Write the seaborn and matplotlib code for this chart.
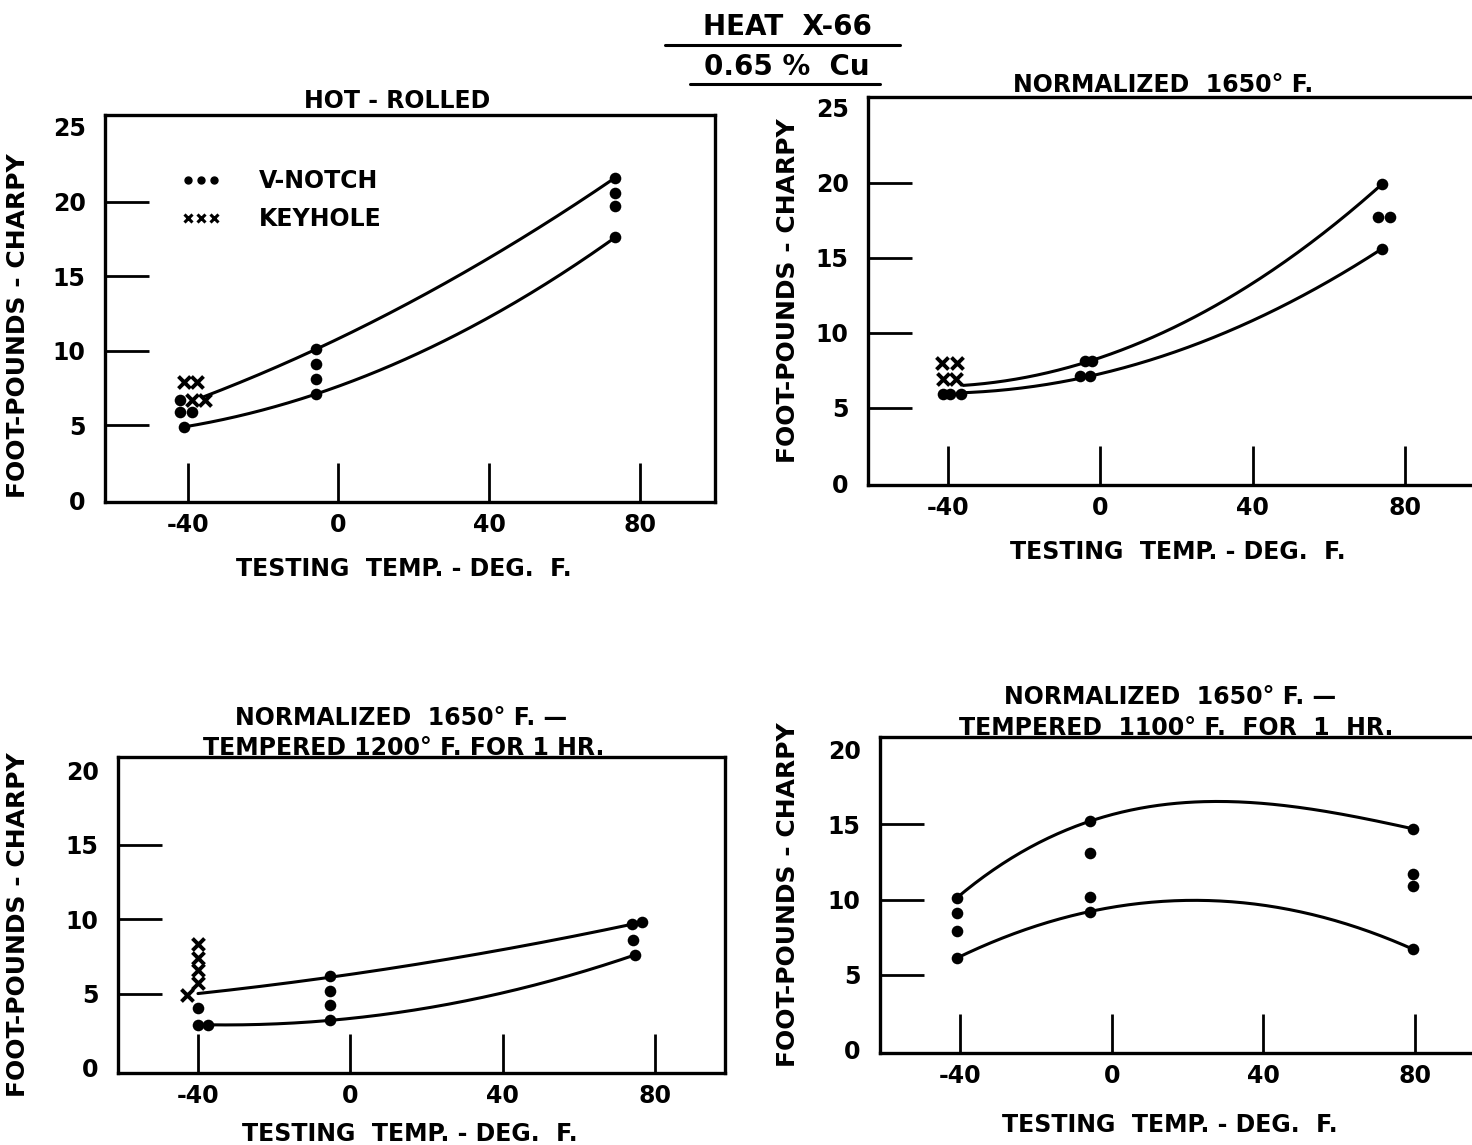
import numpy as np
import pandas as pd
import matplotlib
matplotlib.use("Agg")
import matplotlib.pyplot as plt
from matplotlib.lines import Line2D
import seaborn as sns

sns.set_style("white")
plt.rcParams["font.family"] = ["DejaVu Sans"]
plt.rcParams["font.weight"] = "bold"
plt.rcParams["text.color"] = "black"
plt.rcParams["axes.labelcolor"] = "black"
plt.rcParams["xtick.color"] = "black"
plt.rcParams["ytick.color"] = "black"

# ---- Charpy impact data, heat X-66 (0.65 % Cu) ----
# Hot-rolled
hr_v_temp = [-42, -42, -39, -41, -6, -6, -6, -6, 73.5, 73.5, 73.5, 73.5]
hr_v_ftlb = [6.7, 5.9, 5.9, 4.9, 10.1, 9.1, 8.1, 7.1, 21.6, 20.6, 19.7, 17.6]
hr_k_temp = [-41, -37.5, -39, -35.5]
hr_k_ftlb = [7.9, 7.9, 6.7, 6.7]
hr_upper = ([-36, -6, 73.5], [6.9, 10.1, 21.6])
hr_lower = ([-41, -6, 73.5], [4.9, 7.1, 17.6])

# Normalized 1650 F
n_v_temp = [-41.2, -39.4, -36.7, -3.9, -2.1, -5.2, -2.6, 74, 73, 76, 74]
n_v_ftlb = [5.9, 5.9, 5.9, 8.1, 8.1, 7.1, 7.1, 19.9, 17.7, 17.7, 15.6]
n_k_temp = [-41.5, -37.5, -41.2, -38]
n_k_ftlb = [8.0, 8.0, 6.9, 6.9]
n_upper = ([-36, -3, 74], [6.5, 8.1, 19.9])
n_lower = ([-37.5, -3, 74], [6.0, 7.1, 15.6])

# Normalized 1650 F - tempered 1200 F for 1 hr
t12_v_temp = [-40, -40, -37.3, -5.2, -5.2, -5.2, -5.2, 74, 76.6, 74.3, 74.8]
t12_v_ftlb = [4.0, 2.9, 2.9, 6.2, 5.2, 4.2, 3.2, 9.7, 9.8, 8.6, 7.6]
t12_k_temp = [-40, -40, -40, -40, -43]
t12_k_ftlb = [8.3, 7.4, 6.6, 5.7, 4.9]
t12_upper = ([-40, -5.2, 76.6], [5.0, 6.1, 9.8])
t12_lower = ([-37.3, -5.2, 74.8], [2.9, 3.2, 7.6])

# Normalized 1650 F - tempered 1100 F for 1 hr
t11_v_temp = [-40.9, -40.9, -40.9, -40.9, -5.8, -5.8, -5.8, -5.8, 79.4, 79.4, 79.4, 79.4]
t11_v_ftlb = [10.1, 9.1, 7.9, 6.1, 15.2, 13.1, 10.2, 9.2, 14.7, 11.7, 10.9, 6.7]
t11_k_temp = []
t11_k_ftlb = []
t11_upper = ([-40.9, -5.8, 32, 79.4], [10.1, 15.2, 16.5, 14.7])
t11_lower = ([-40.9, -5.8, 79.4], [6.1, 9.2, 6.7])

x_ticks = [-40, 0, 40, 80]

W, H = 1472, 1145
fig = plt.figure(figsize=(W / 100, H / 100), dpi=100)
fig.patch.set_facecolor("white")


def px_axes(left, top, right, bottom):
    return fig.add_axes([left / W, 1 - bottom / H, (right - left) / W, (bottom - top) / H])


FS = 17
LW_SPINE = 2.4


def panel(ax, v_t, v_f, k_t, k_f, upper, lower, xlim, ylim, yticks, title_lines,
          ylab_xy, xlab_xy):
    for xs, ys in (upper, lower):
        deg = len(xs) - 1
        coef = np.polyfit(xs, ys, deg)
        grid = np.linspace(min(xs), max(xs), 200)
        curve = pd.DataFrame({"t": grid, "e": np.polyval(coef, grid)})
        sns.lineplot(data=curve, x="t", y="e", color="black", lw=2.2,
                     estimator=None, sort=False, ax=ax)
    vdf = pd.DataFrame({"t": v_t, "e": v_f})
    sns.scatterplot(data=vdf, x="t", y="e", marker="o", s=70, color="black",
                    linewidth=0, ax=ax, zorder=5)
    if k_t:
        kdf = pd.DataFrame({"t": k_t, "e": k_f})
        sns.scatterplot(data=kdf, x="t", y="e", marker="x", s=75, color="black",
                        linewidth=2.8, ax=ax, zorder=5)
    ax.set_xlim(*xlim)
    ax.set_ylim(*ylim)
    ax.set_xticks(x_ticks)
    ax.set_xticklabels([str(t) if t >= 0 else "-" + str(-t) for t in x_ticks])
    ax.set_yticks(yticks)
    ax.tick_params(axis="y", which="major", left=True, direction="in", length=32,
                   width=2.0, pad=14, labelsize=FS, colors="black")
    ax.tick_params(axis="x", which="major", bottom=True, direction="in", length=28,
                   width=2.0, pad=8, labelsize=FS, colors="black")
    # the end values sit on the frame itself, so no inner tick stroke there
    ticks = ax.yaxis.get_major_ticks()
    for t in (ticks[0], ticks[-1]):
        t.tick1line.set_visible(False)
    for s in ax.spines.values():
        s.set_visible(True)
        s.set_linewidth(LW_SPINE)
        s.set_color("black")
    ax.set_xlabel("TESTING  TEMP. - DEG.  F.", fontsize=FS, fontweight="bold")
    ax.set_ylabel("FOOT-POUNDS - CHARPY", fontsize=FS + 1, fontweight="bold")
    ax.xaxis.set_label_coords(*xlab_xy)
    ax.yaxis.set_label_coords(*ylab_xy)
    for text, (tx, ty) in title_lines:
        ax.text(tx, ty, text, transform=ax.transAxes, ha="center", va="bottom",
                fontsize=FS, fontweight="bold")
    ax.set_facecolor("white")


# Hot-rolled
ax1 = px_axes(105, 115, 715, 502)
panel(ax1, hr_v_temp, hr_v_ftlb, hr_k_temp, hr_k_ftlb, hr_upper, hr_lower,
      (-62, 100), (-0.13, 25.8), [0, 5, 10, 15, 20, 25],
      [("HOT - ROLLED", (0.479, 1.005))], (-0.123, 0.457), (0.49, -0.142))
handles = [Line2D([], [], ls="none", marker="o", ms=5, color="black"),
           Line2D([], [], ls="none", marker="x", ms=6, mew=2.2, color="black")]
ax1.legend(handles, ["V-NOTCH", "KEYHOLE"], loc="upper left", numpoints=3,
           frameon=False, handlelength=1.7, handletextpad=1.6, labelspacing=0.6,
           bbox_to_anchor=(0.09, 0.915), prop={"size": FS, "weight": "bold"})

# Normalized 1650 F
ax2 = px_axes(868, 97, 1510, 485)
panel(ax2, n_v_temp, n_v_ftlb, n_k_temp, n_k_ftlb, n_upper, n_lower,
      (-61, 107.6), (-0.13, 25.7), [0, 5, 10, 15, 20, 25],
      [("NORMALIZED  1650° F.", (0.46, 1.0))], (-0.106, 0.50), (0.483, -0.142))

# Tempered 1200 F
ax3 = px_axes(118, 757, 725, 1073)
panel(ax3, t12_v_temp, t12_v_ftlb, t12_k_temp, t12_k_ftlb, t12_upper, t12_lower,
      (-61, 98.4), (-0.34, 20.9), [0, 5, 10, 15, 20],
      [("NORMALIZED  1650° F. —", (0.467, 1.085)),
       ("TEMPERED 1200° F. FOR 1 HR.", (0.47, 0.99))],
      (-0.145, 0.47), (0.48, -0.155))

# Tempered 1100 F
ax4 = px_axes(880, 737, 1510, 1053)
panel(ax4, t11_v_temp, t11_v_ftlb, t11_k_temp, t11_k_ftlb, t11_upper, t11_lower,
      (-61.1, 105), (-0.2, 20.8), [0, 5, 10, 15, 20],
      [("NORMALIZED  1650° F. —", (0.46, 1.09)),
       ("TEMPERED  1100° F.  FOR  1  HR.", (0.47, 0.99))],
      (-0.127, 0.50), (0.46, -0.19))

# Heading
fig.text(787 / W, 1 - 27 / H, "HEAT  X-66", ha="center", va="center",
         fontsize=20, fontweight="bold")
fig.add_artist(Line2D([665 / W, 900 / W], [1 - 45 / H, 1 - 45 / H], color="black",
                      lw=2.2, transform=fig.transFigure))
fig.text(787 / W, 1 - 67 / H, "0.65 %  Cu", ha="center", va="center",
         fontsize=20, fontweight="bold")
fig.add_artist(Line2D([690 / W, 880 / W], [1 - 84 / H, 1 - 84 / H], color="black",
                      lw=2.2, transform=fig.transFigure))

fig.savefig("out.png", dpi=100, facecolor="white")
